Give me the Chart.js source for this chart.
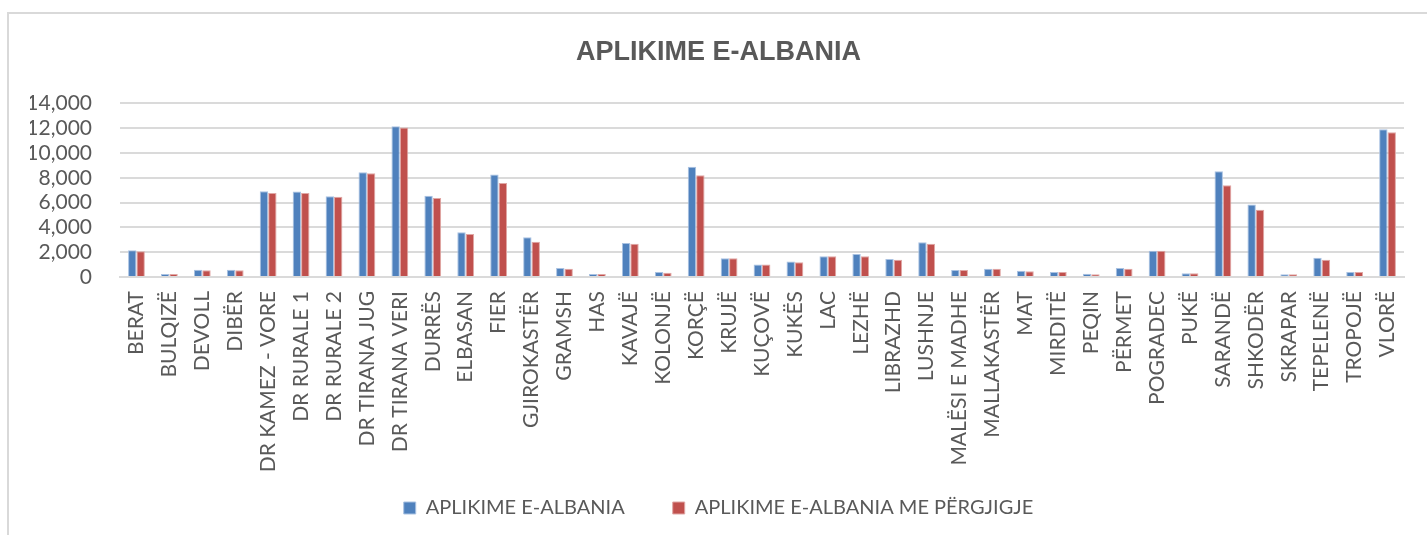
<!DOCTYPE html>
<html>
<head>
<meta charset="utf-8">
<script src="https://cdn.jsdelivr.net/npm/chart.js@4.4.0/dist/chart.umd.min.js"></script>
<style>
    html, body { margin: 0; padding: 0; background: #fff; overflow: hidden; }
    #frame {
        position: absolute; left: 7px; top: 12px;
        width: 1500px; height: 600px;
        border: 2px solid #d9d9d9;
    }
    #wrap { position: absolute; left: 0; top: 0; width: 1427px; height: 535px; }
</style>
</head>
<body>
<div id="frame"></div>
<div id="wrap"><canvas id="chart"></canvas></div>
<script>
const districts = [
    'BERAT', 'BULQIZË', 'DEVOLL', 'DIBËR', 'DR KAMEZ - VORE', 'DR RURALE 1', 'DR RURALE 2',
    'DR TIRANA JUG', 'DR TIRANA VERI', 'DURRËS', 'ELBASAN', 'FIER', 'GJIROKASTËR', 'GRAMSH',
    'HAS', 'KAVAJË', 'KOLONJË', 'KORÇË', 'KRUJË', 'KUÇOVË', 'KUKËS', 'LAC', 'LEZHË',
    'LIBRAZHD', 'LUSHNJE', 'MALËSI E MADHE', 'MALLAKASTËR', 'MAT', 'MIRDITË', 'PEQIN',
    'PËRMET', 'POGRADEC', 'PUKË', 'SARANDË', 'SHKODËR', 'SKRAPAR', 'TEPELENË', 'TROPOJË', 'VLORË'
];

// applications submitted
const applications = [
    2150, 250, 590, 590, 6910, 6890, 6510, 8450, 12160, 6560, 3600, 8260, 3200, 730,
    250, 2740, 400, 8900, 1510, 1000, 1240, 1670, 1860, 1450, 2800, 565, 670, 510, 400, 270,
    730, 2125, 300, 8530, 5840, 215, 1560, 400, 11920
];

// applications that got a reply
const answered = [
    2070, 250, 540, 540, 6780, 6780, 6480, 8370, 12050, 6380, 3470, 7590, 2850, 670,
    250, 2690, 350, 8200, 1510, 1000, 1180, 1670, 1670, 1400, 2690, 565, 670, 460, 400, 215,
    670, 2125, 300, 7400, 5430, 215, 1400, 400, 11670
];

const yTicks = [0, 2000, 4000, 6000, 8000, 10000, 12000, 14000];

const TEXT = '#595959';
const GRID = '#dadada';
const FONT = 'Lato, "Noto Sans", sans-serif';

new Chart(document.getElementById('chart'), {
    type: 'bar',
    data: {
        labels: districts,
        datasets: [{
            label: 'APLIKIME E-ALBANIA',
            data: applications,
            backgroundColor: '#4f81bd',
            borderColor: '#a9c2e2',
            borderWidth: 1
        }, {
            label: 'APLIKIME E-ALBANIA ME PËRGJIGJE',
            data: answered,
            backgroundColor: '#c0504d',
            borderColor: '#e0a7a5',
            borderWidth: 1
        }]
    },
    options: {
        responsive: true,
        maintainAspectRatio: false,
        animation: false,
        datasets: {
            bar: { categoryPercentage: 0.51, barPercentage: 1 }
        },
        layout: { padding: { left: 30, right: 20, top: 0, bottom: 7 } },
        plugins: {
            title: {
                display: true,
                text: 'APLIKIME E-ALBANIA',
                color: TEXT,
                font: { family: '"Liberation Sans", Arial, sans-serif', size: 27, weight: 'bold', lineHeight: 1.2 },
                padding: { top: 36, bottom: 35 }
            },
            legend: {
                position: 'bottom',
                labels: {
                    color: TEXT,
                    font: { family: FONT, size: 20 },
                    boxWidth: 12,
                    boxHeight: 12,
                    padding: 48
                }
            },
            tooltip: { enabled: false }
        },
        scales: {
            x: {
                grid: { display: false, drawTicks: false },
                border: { color: GRID, width: 2 },
                ticks: {
                    color: TEXT,
                    font: { family: FONT, size: 21 },
                    minRotation: 90,
                    maxRotation: 90,
                    autoSkip: false,
                    padding: 14
                },
                afterFit: function (scale) {
                    scale.height = 173;
                    // long labels run past the box into the empty band above the legend
                    scale._computeLabelArea = function () { return undefined; };
                }
            },
            y: {
                min: 0,
                max: 14000,
                grid: { color: GRID, lineWidth: 2, drawTicks: false },
                border: { display: false },
                afterBuildTicks: function (scale) {
                    scale.ticks = yTicks.map(v => ({ value: v }));
                },
                ticks: {
                    color: TEXT,
                    font: { family: FONT, size: 21 },
                    padding: 28,
                    autoSkip: false,
                    callback: v => v.toLocaleString('en-US')
                },
                afterFit: function (scale) { scale.width = 90; }
            }
        }
    }
});
</script>
</body>
</html>
